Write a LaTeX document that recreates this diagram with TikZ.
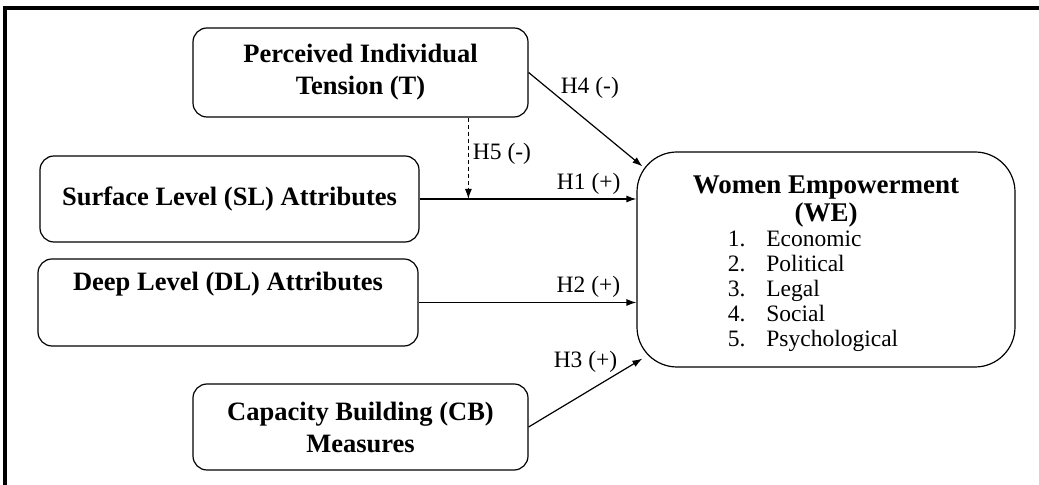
\documentclass[tikz,border=0pt]{standalone}
\usepackage{fontspec}
\setmainfont{Liberation Serif}
\usetikzlibrary{arrows.meta}

\begin{document}
\begin{tikzpicture}[x=0.5pt, y=-0.5pt, line width=0.6pt,
        box/.style={draw, rounded corners=7pt, align=center, inner sep=2pt, font=\fontsize{13.25}{16}\selectfont\bfseries},
        lbl/.style={inner sep=2pt, font=\fontsize{11.75}{12.5}\selectfont},
        link/.style={-{Latex[length=5pt, width=3.5pt]}}]
        \useasboundingbox (0,0) rectangle (1039,485);

        % Cadre
        \draw[line width=1.6pt] (5,485) -- (5,8) -- (1039,8);

        % Variables explicatives
        \node[box, minimum width=167.5pt, minimum height=44.5pt] (T) at (360.5,72.5) {Perceived Individual\\Tension (T)};
        \node[box, minimum width=189.5pt, minimum height=43pt] (SL) at (229.5,199) {Surface Level (SL) Attributes};
        \node[box, minimum width=190pt, minimum height=43.5pt] (DL) at (228,302.5) {Deep Level (DL) Attributes\\ \strut};
        \node[box, minimum width=167.5pt, minimum height=43pt] (CB) at (360.5,427) {Capacity Building (CB)\\Measures};

        % Variable dependante
        \node[box, rounded corners=20pt, minimum width=189pt, minimum height=107.5pt, font=\fontsize{13.5}{14}\selectfont\bfseries] (WE) at (826,259.5)
            {\rule{0pt}{14pt}Women Empowerment\\(WE)\\
             {\normalfont\fontsize{11.75}{12.5}\selectfont
              \begin{tabular}{@{}l@{\hspace{10.5pt}}l@{}}
                1. & Economic\\
                2. & Political\\
                3. & Legal\\
                4. & Social\\
                5. & Psychological
              \end{tabular}}\hspace*{13pt}};

        % Hypotheses
        \draw[link] (T.east) -- node[lbl, pos=0.33, above right, xshift=-5pt] (h4) {H4 (-)} ([shift={(6,15)}]WE.north west);
        \draw[link] (SL.east) -- node[lbl, pos=0.78, above] (h1) {H1 (+)} (SL.east -| WE.west);
        \path (SL.east) -- (SL.east -| WE.west) coordinate[pos=0.225] (mod);
        \draw[link, dash pattern=on 2pt off 1.5pt] (T.south -| mod) -- node[lbl, pos=0.45, right] (h5) {H5 (-)} (mod);
        \draw[link] (DL.east) -- node[lbl, pos=0.78, above] (h2) {H2 (+)} (DL.east -| WE.west);
        \draw[link] (CB.east) -- node[lbl, pos=0.5, above=8pt] (h3) {H3 (+)} ([shift={(6,-9)}]WE.south west);
    \end{tikzpicture}
\end{document}
